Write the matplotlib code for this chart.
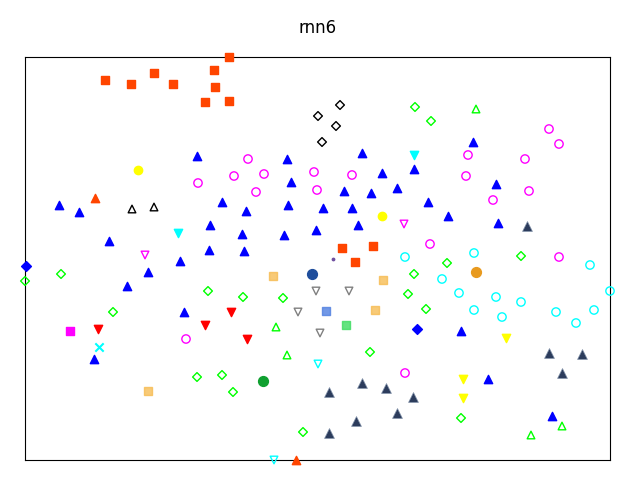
import matplotlib
matplotlib.use("Agg")
import matplotlib.pyplot as plt

# point positions (image pixels, y grows downward)
orange_sq_x = [105, 131, 154, 173, 214, 215, 229, 205, 229, 342, 373, 355]
orange_sq_y = [80, 84, 73, 84, 70, 87, 57, 102, 101, 248, 246, 262]

black_dia_x = [340, 318, 336, 322]
black_dia_y = [105, 116, 126, 142]

green_dia_x = [415, 431, 25, 61, 208, 113, 243, 283, 414, 408, 447, 426, 521, 197, 222, 233, 303, 370, 461]
green_dia_y = [107, 121, 281, 274, 291, 312, 297, 298, 274, 294, 263, 309, 256, 377, 375, 392, 432, 352, 418]

green_tri_x = [476, 276, 287, 531, 562]
green_tri_y = [109, 327, 355, 435, 426]

blue_tri_x = [197, 287, 362, 291, 382, 414, 344, 371, 397, 473, 496, 59, 79, 210, 109, 209, 180, 148,
              127, 184, 94, 222, 246, 288, 323, 352, 242, 284, 316, 358, 244, 428, 448, 498, 461, 488, 552]
blue_tri_y = [156, 159, 153, 182, 173, 169, 191, 193, 188, 142, 184, 205, 212, 225, 241, 250, 261, 272,
              286, 312, 359, 202, 211, 205, 208, 208, 234, 235, 230, 225, 251, 202, 216, 223, 331, 379, 416]

magenta_circ_x = [198, 248, 234, 264, 256, 314, 317, 352, 549, 559, 468, 525, 466, 529, 493, 430, 559, 186, 405]
magenta_circ_y = [183, 159, 176, 174, 192, 172, 190, 175, 129, 144, 155, 159, 176, 191, 200, 244, 257, 339, 373]

cyan_circ_x = [405, 474, 442, 459, 496, 521, 474, 502, 556, 576, 594, 590, 610]
cyan_circ_y = [257, 253, 279, 293, 297, 302, 310, 317, 312, 323, 310, 265, 291]

cyan_down_x = [414, 178]
cyan_down_y = [155, 233]
cyan_open_down_x = [318, 274]
cyan_open_down_y = [364, 460]
cyan_x_x = [99]
cyan_x_y = [347]

magenta_down_x = [145, 404]
magenta_down_y = [255, 224]
magenta_sq_x = [70]
magenta_sq_y = [331]

red_down_x = [98, 205, 231, 247]
red_down_y = [329, 325, 312, 339]

black_tri_x = [132, 154]
black_tri_y = [209, 207]

orange_tri_x = [95, 296]
orange_tri_y = [198, 460]

yellow_circ_x = [138, 382]
yellow_circ_y = [170, 216]
yellow_down_x = [506, 463, 463]
yellow_down_y = [338, 379, 398]

gray_down_x = [316, 349, 298, 320]
gray_down_y = [291, 291, 312, 333]

peach_sq_x = [273, 383, 375, 148]
peach_sq_y = [276, 280, 310, 391]

blue_sq_x = [326]
blue_sq_y = [311]
mint_sq_x = [346]
mint_sq_y = [325]

navy_circ_x = [312]
navy_circ_y = [274]
green_circ_x = [263]
green_circ_y = [381]
amber_circ_x = [476]
amber_circ_y = [272]
dot_x = [333]
dot_y = [259]

blue_dia_x = [26, 417]
blue_dia_y = [266, 329]

slate_tri_x = [527, 329, 362, 386, 413, 397, 356, 329, 549, 582, 562]
slate_tri_y = [226, 392, 383, 388, 397, 413, 421, 433, 353, 354, 373]

fig = plt.figure(figsize=(6.4, 4.8), dpi=100)
ax = fig.add_axes([25 / 640, 1 - 460 / 480, 585 / 640, 403 / 480])

kw = dict(clip_on=False, zorder=3)
ax.scatter(orange_sq_x, orange_sq_y, marker='s', s=36, color='#ff4500', **kw)
ax.scatter(black_dia_x, black_dia_y, marker='D', s=20, facecolors='none', edgecolors='black', **kw)
ax.scatter(green_dia_x, green_dia_y, marker='D', s=20, facecolors='none', edgecolors='#00ff00', **kw)
ax.scatter(green_tri_x, green_tri_y, marker='^', s=30, facecolors='none', edgecolors='#00ff00', **kw)
ax.scatter(blue_tri_x, blue_tri_y, marker='^', s=36, color='#0000ff', **kw)
ax.scatter(magenta_circ_x, magenta_circ_y, marker='o', s=36, facecolors='none', edgecolors='#ff00ff', **kw)
ax.scatter(cyan_circ_x, cyan_circ_y, marker='o', s=36, facecolors='none', edgecolors='#00ffff', **kw)
ax.scatter(cyan_down_x, cyan_down_y, marker='v', s=36, color='#00ffff', **kw)
ax.scatter(cyan_open_down_x, cyan_open_down_y, marker='v', s=30, facecolors='none', edgecolors='#00ffff', **kw)
ax.scatter(cyan_x_x, cyan_x_y, marker='x', s=36, color='#00ffff', **kw)
ax.scatter(magenta_down_x, magenta_down_y, marker='v', s=30, facecolors='none', edgecolors='#ff00ff', **kw)
ax.scatter(magenta_sq_x, magenta_sq_y, marker='s', s=36, color='#ff00ff', **kw)
ax.scatter(red_down_x, red_down_y, marker='v', s=36, color='#ff0000', **kw)
ax.scatter(black_tri_x, black_tri_y, marker='^', s=30, facecolors='none', edgecolors='black', **kw)
ax.scatter(orange_tri_x, orange_tri_y, marker='^', s=36, color='#ff4500', **kw)
ax.scatter(yellow_circ_x, yellow_circ_y, marker='o', s=36, color='#ffff00', **kw)
ax.scatter(yellow_down_x, yellow_down_y, marker='v', s=36, color='#ffff00', **kw)
ax.scatter(gray_down_x, gray_down_y, marker='v', s=30, facecolors='none', edgecolors='gray', **kw)
ax.scatter(peach_sq_x, peach_sq_y, marker='s', s=36, color='#f6b94a', alpha=0.75, **kw)
ax.scatter(blue_sq_x, blue_sq_y, marker='s', s=36, color='#4f7fe0', alpha=0.8, **kw)
ax.scatter(mint_sq_x, mint_sq_y, marker='s', s=36, color='#3ddc60', alpha=0.8, **kw)
ax.scatter(navy_circ_x, navy_circ_y, marker='o', s=50, color='#1f4e9c', **kw)
ax.scatter(green_circ_x, green_circ_y, marker='o', s=50, color='#10a030', **kw)
ax.scatter(amber_circ_x, amber_circ_y, marker='o', s=50, color='#e89a1f', **kw)
ax.scatter(dot_x, dot_y, marker='o', s=3, color='#7050a0', **kw)
ax.scatter(blue_dia_x, blue_dia_y, marker='D', s=25, color='#0000ff', **kw)
ax.scatter(slate_tri_x, slate_tri_y, marker='^', s=50, color='#2c3c5c', edgecolors='#8090a8', linewidths=0.5, **kw)

ax.set_xlim(25, 610)
ax.set_ylim(460, 57)
ax.set_xticks([])
ax.set_yticks([])
fig.text(318 / 640, 1 - 28 / 480, 'rnn6', ha='center', va='center', fontsize=12)

fig.savefig('out.png', dpi=100)
